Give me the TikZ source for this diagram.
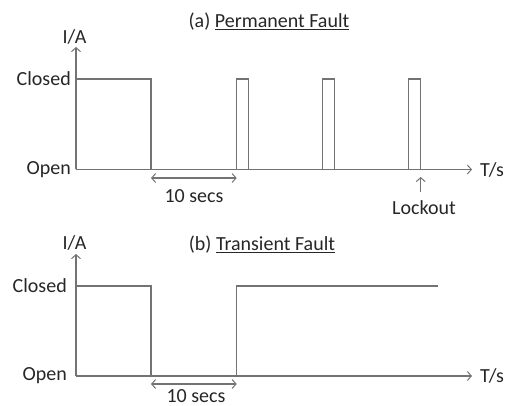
\documentclass[tikz,border=0pt]{standalone}
\usepackage{fontspec}
\setmainfont{Carlito}
\usetikzlibrary{arrows.meta}
\begin{document}
\begin{tikzpicture}[x=1pt,y=-1pt,
  wave/.style={draw=black!55,line width=1.1pt},
  axis/.style={draw=black!55,line width=1.1pt,-{Straight Barb[length=4pt,width=9pt,line width=1pt]}},
  dim/.style={draw=black!55,line width=1.1pt,{Straight Barb[length=4pt,width=9pt,line width=1pt]}-{Straight Barb[length=4pt,width=9pt,line width=1pt]}},
  lbl/.style={inner sep=0pt,text=black!85,font=\fontsize{20}{23}\selectfont}]
\useasboundingbox (0,0) rectangle (508,406);
% ---------- (a) Permanent fault ----------
\coordinate (a0) at (76,169.5);
\coordinate (ay) at (76,47);
\coordinate (ax) at (472,169.5);
\draw[axis] (a0) -- (ay);
\draw[axis] (a0) -- (ax);
\draw[wave] (76,79) -- (151,79) -- (151,169.5);
\draw[wave] (236.7,169.5) -- (236.7,79) -- (248.3,79) -- (248.3,169.5);
\draw[wave] (322.7,169.5) -- (322.7,79) -- (334.3,79) -- (334.3,169.5);
\draw[wave] (408.7,169.5) -- (408.7,79) -- (420.7,79) -- (420.7,169.5);
\node[lbl] (ta) at (269,22) {(a) \underline{Permanent Fault}};
\node[lbl] (iaa) at (74.5,37) {I/A};
\node[lbl,anchor=east] (ca) at (71,79) {Closed};
\node[lbl,anchor=east] (oa) at (71,169.5) {Open};
\node[lbl,anchor=west] (tsa) at (480,169.5) {T/s};
\coordinate (d1) at (151,178);
\coordinate (d2) at (236.7,178);
\draw[dim] (d1) -- (d2);
\node[lbl] (sa) at (194,196) {10 secs};
\node[lbl] (lk) at (424,208) {Lockout};
\coordinate (lkt) at (420.7,177);
\coordinate (lkb) at (420.7,192);
\draw[axis] (lkb) -- (lkt);
% ---------- (b) Transient fault ----------
\coordinate (b0) at (76,376);
\coordinate (by) at (76,254);
\coordinate (bx) at (472,376);
\draw[axis] (b0) -- (by);
\draw[axis] (b0) -- (bx);
\draw[wave] (76,286) -- (151,286) -- (151,376);
\draw[wave] (236.7,376) -- (236.7,286) -- (437.7,286);
\node[lbl] (tb) at (262,245) {(b) \underline{Transient Fault}};
\node[lbl] (iab) at (74.5,243) {I/A};
\node[lbl,anchor=east] (cb) at (67,286) {Closed};
\node[lbl,anchor=east] (ob) at (67,376) {Open};
\node[lbl,anchor=west] (tsb) at (480,376) {T/s};
\coordinate (e1) at (151,384);
\coordinate (e2) at (236.7,384);
\draw[dim] (e1) -- (e2);
\node[lbl] (sb) at (196,396.5) {10 secs};
\end{tikzpicture}
\end{document}
